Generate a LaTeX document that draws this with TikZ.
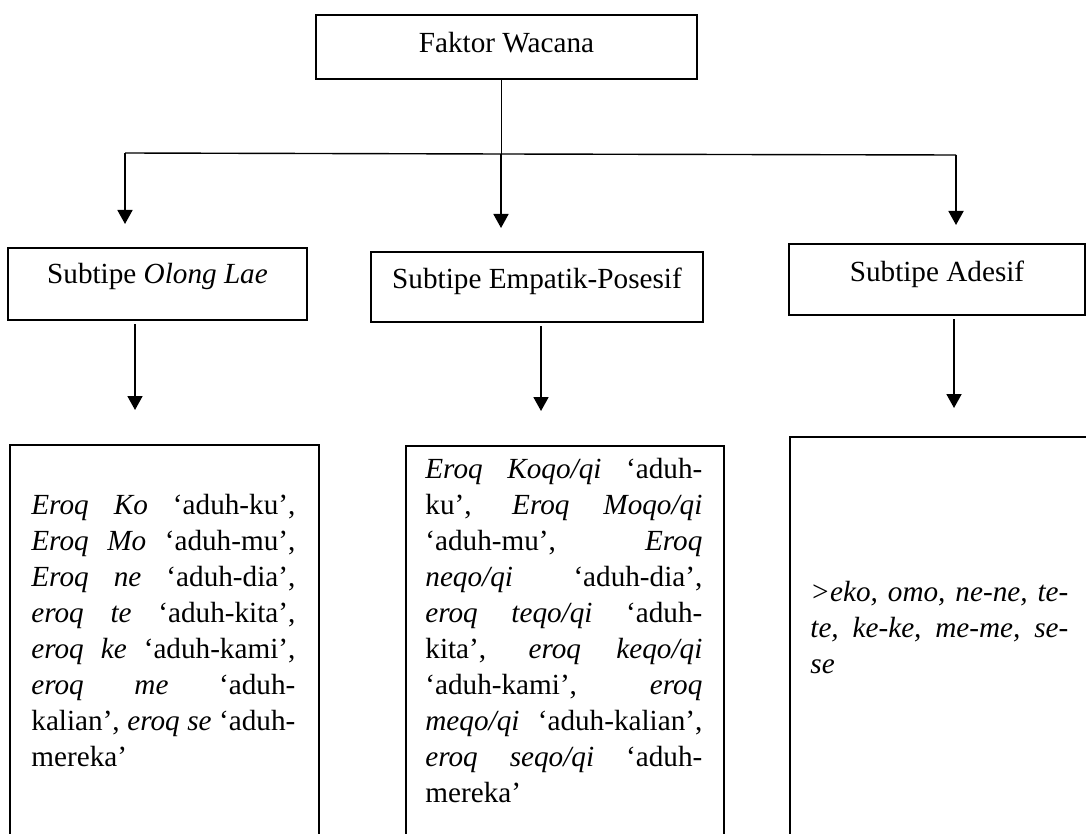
\documentclass[tikz,border=0pt]{standalone}
\usepackage{fontspec}
\setmainfont{Liberation Serif}
\usetikzlibrary{arrows.meta}

\begin{document}
\begin{tikzpicture}[x=0.5pt,y=-0.5pt,
  txt/.style={font=\fontsize{14.6pt}{18pt}\selectfont},
  box/.style={txt,draw,line width=1pt,inner sep=0pt},
  frame/.style={draw,line width=1pt,inner sep=0pt},
  para/.style={txt,inner sep=0pt,align=justify,
    execute at begin node={\hyphenpenalty=10000\exhyphenpenalty=10000}},
  arr/.style={line width=0.9pt,-{Triangle[length=7pt,width=7.5pt]}},
  bus/.style={line width=0.7pt},
  stem/.style={line width=0.5pt}]

\useasboundingbox (0,0) rectangle (1086,834);
\clip (0,0) rectangle (1086,834);

% root box
\node[box,minimum width=190.5pt,text height=19pt,text depth=13pt,anchor=north]
  (top) at (506.5,14) {Faktor Wacana};

% subtype boxes
\node[box,minimum width=149.5pt,text height=18pt,text depth=18pt,anchor=north]
  (s1) at (157.5,247) {Subtipe \textit{Olong Lae}};
\node[box,minimum width=166pt,text height=18pt,text depth=17pt,anchor=north]
  (s2) at (537,251) {Subtipe Empatik-Posesif};
\node[box,minimum width=148pt,text height=18.5pt,text depth=17pt,anchor=north]
  (s3) at (937,243) {Subtipe Adesif};

% example boxes (running past the lower edge)
\node[frame,minimum width=154.5pt,minimum height=250pt,anchor=north west]
  (b1) at (9,444) {};
\node[frame,minimum width=159pt,minimum height=250pt,anchor=north west]
  (b2) at (405,445) {};
\node[frame,minimum width=160pt,minimum height=250pt,anchor=north west]
  (b3) at (789,436) {};

% example texts
\node[para,text width=132pt,anchor=base west] (p1) at (31,514)
 {\textit{Eroq Ko} ‘aduh-ku’,\linebreak
  \textit{Eroq Mo} ‘aduh-mu’,\linebreak
  \textit{Eroq ne} ‘aduh-dia’,\linebreak
  \textit{eroq te} ‘aduh-kita’,\linebreak
  \textit{eroq ke} ‘aduh-kami’,\linebreak
  \textit{eroq me} ‘aduh-\linebreak
  kalian’, \textit{eroq se} ‘aduh-\linebreak
  mereka’};

\node[para,text width=138.5pt,anchor=base west] (p2) at (425,478)
 {\textit{Eroq Koqo/qi} ‘aduh-\linebreak
  ku’, \textit{Eroq Moqo/qi}\linebreak
  ‘aduh-mu’, \textit{Eroq}\linebreak
  \textit{neqo/qi} ‘aduh-dia’,\linebreak
  \textit{eroq teqo/qi} ‘aduh-\linebreak
  kita’, \textit{eroq keqo/qi}\linebreak
  ‘aduh-kami’, \textit{eroq}\linebreak
  \textit{meqo/qi} ‘aduh-kalian’,\linebreak
  \textit{eroq seqo/qi} ‘aduh-\linebreak
  mereka’};

\node[para,text width=129pt,anchor=base west] (p3) at (810,601)
 {\textit{>eko, omo, ne-ne, te-\linebreak
  te, ke-ke, me-me, se-\linebreak
  se}};

% branching connectors
\coordinate (jL) at (125,153);
\coordinate (jM) at (501,154);
\coordinate (jR) at (956,155);
\coordinate (aL) at (125,224);
\coordinate (aM) at (501,228);
\coordinate (aR) at (956,225);

\draw[stem] (top.south -| jM) -- (jM);
\draw[bus] (jL) -- (jM) -- (jR);
\draw[arr] (jL) -- (aL);
\draw[arr] (jM) -- (aM);
\draw[arr] (jR) -- (aR);

% subtype to example arrows
\coordinate (cL) at (135,410);
\coordinate (cM) at (541,411);
\coordinate (cR) at (954,408);
\draw[arr,shorten <=1.5pt] (s1.south -| cL) -- (cL);
\draw[arr,shorten <=1.5pt] (s2.south -| cM) -- (cM);
\draw[arr,shorten <=1.5pt] (s3.south -| cR) -- (cR);

\end{tikzpicture}
\end{document}
